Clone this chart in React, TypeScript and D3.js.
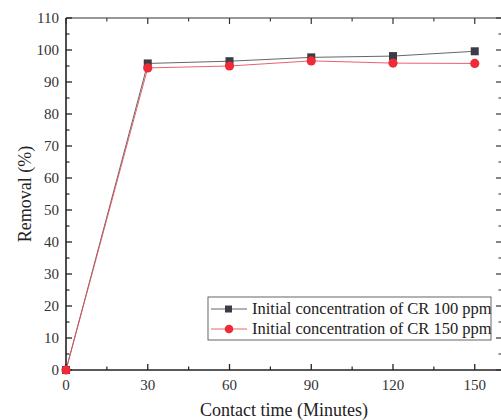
import * as React from "react";
import * as d3 from "d3";

const times = [0, 30, 60, 90, 120, 150];
const cr100 = [0, 95.8, 96.5, 97.7, 98.1, 99.6];
const cr150 = [0, 94.4, 95.0, 96.6, 95.9, 95.8];
const xTicks = [0, 30, 60, 90, 120, 150];
const yTicks = [0, 10, 20, 30, 40, 50, 60, 70, 80, 90, 100, 110];
const legendLabels = [
  "Initial concentration of CR 100 ppm",
  "Initial concentration of CR 150 ppm"
];

const W = 501;
const H = 420;
const left = 66;
const top = 18;
const right = 502;
const bottom = 370;
const font = "'Liberation Serif', 'Times New Roman', serif";

export default function App() {
  const x = d3.scaleLinear().domain([0, 160]).range([left, right]);
  const y = d3.scaleLinear().domain([0, 110]).range([bottom, top]);

  const minorX = d3.range(15, 160, 30);
  const minorY = d3.range(5, 110, 10);

  const line = d3
    .line<number>()
    .x((_, i) => x(times[i]))
    .y(d => y(d));

  const series = [
    { key: "100", values: cr100, color: "#3c3c46", line: "#555" },
    { key: "150", values: cr150, color: "#ee2b36", line: "#e8505a" }
  ];

  return (
    <svg
      width={W}
      height={H}
      style={{ position: "absolute", left: 0, top: 0, background: "#fff" }}
      fontFamily={font}
    >
      {/* frame */}
      <line x1={left} x2={right} y1={top} y2={top} stroke="#333" strokeWidth={1.2} />
      <line x1={right} x2={right} y1={top} y2={bottom} stroke="#333" strokeWidth={1.2} />
      <line x1={left} x2={left} y1={top} y2={bottom} stroke="#222" strokeWidth={1.6} />
      <line x1={left} x2={right} y1={bottom} y2={bottom} stroke="#222" strokeWidth={1.6} />

      {/* x ticks, bottom and top, inward */}
      {xTicks.map(t => (
        <g key={"xt" + t}>
          <line x1={x(t)} x2={x(t)} y1={bottom} y2={bottom - 6} stroke="#222" strokeWidth={1.3} />
          <line x1={x(t)} x2={x(t)} y1={top} y2={top + 6} stroke="#333" strokeWidth={1.2} />
          <text x={x(t)} y={390} fontSize={15} textAnchor="middle" fill="#333">
            {t}
          </text>
        </g>
      ))}
      {minorX.map(t => (
        <g key={"xm" + t}>
          <line x1={x(t)} x2={x(t)} y1={bottom} y2={bottom - 3.5} stroke="#222" strokeWidth={1.2} />
          <line x1={x(t)} x2={x(t)} y1={top} y2={top + 3.5} stroke="#333" strokeWidth={1.1} />
        </g>
      ))}

      {/* y ticks, left and right, inward */}
      {yTicks.map(t => (
        <g key={"yt" + t}>
          <line x1={left} x2={left + 6} y1={y(t)} y2={y(t)} stroke="#222" strokeWidth={1.3} />
          <line x1={right} x2={right - 6} y1={y(t)} y2={y(t)} stroke="#333" strokeWidth={1.2} />
          <text x={59} y={y(t) + 5} fontSize={15} textAnchor="end" fill="#333">
            {t}
          </text>
        </g>
      ))}
      {minorY.map(t => (
        <g key={"ym" + t}>
          <line x1={left} x2={left + 3.5} y1={y(t)} y2={y(t)} stroke="#222" strokeWidth={1.2} />
          <line x1={right} x2={right - 3.5} y1={y(t)} y2={y(t)} stroke="#333" strokeWidth={1.1} />
        </g>
      ))}

      {/* axis titles */}
      <text x={284} y={416} fontSize={18} textAnchor="middle" fill="#222">
        Contact time (Minutes)
      </text>
      <text
        transform={`translate(31,${(top + bottom) / 2}) rotate(-90)`}
        fontSize={18}
        textAnchor="middle"
        fill="#222"
      >
        Removal (%)
      </text>

      {/* series */}
      {series.map(s => (
        <g key={s.key}>
          <path d={line(s.values) as string} fill="none" stroke={s.line} strokeWidth={0.9} />
          {s.values.map((v, i) =>
            s.key === "100" ? (
              <rect key={i} x={x(times[i]) - 4} y={y(v) - 4} width={8} height={8} fill={s.color} />
            ) : (
              <circle key={i} cx={x(times[i])} cy={y(v)} r={4.6} fill={s.color} />
            )
          )}
        </g>
      ))}

      {/* legend */}
      <g>
        <rect x={208} y={297} width={283} height={43} fill="#fff" stroke="#555" strokeWidth={0.9} />
        {series.map((s, i) => {
          const ly = 309 + i * 20;
          return (
            <g key={"lg" + s.key}>
              <line x1={211} x2={247} y1={ly} y2={ly} stroke={s.line} strokeWidth={0.9} />
              {s.key === "100" ? (
                <rect x={225} y={ly - 3.5} width={7} height={7} fill={s.color} />
              ) : (
                <circle cx={229} cy={ly} r={4.3} fill={s.color} />
              )}
              <text x={252} y={ly + 5} fontSize={16.5} fill="#222">
                {legendLabels[i]}
              </text>
            </g>
          );
        })}
      </g>
    </svg>
  );
}
